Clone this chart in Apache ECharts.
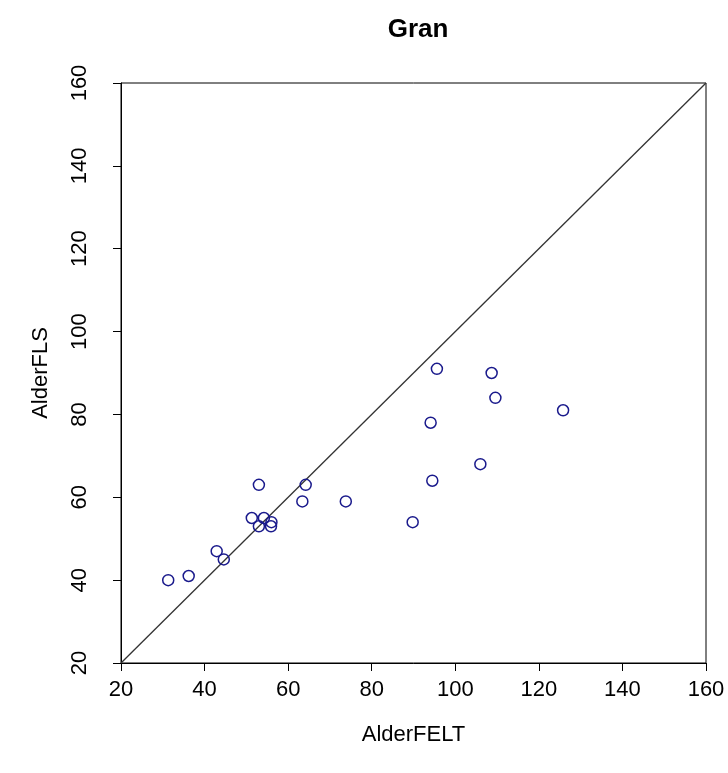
<!DOCTYPE html>
<html>
<head>
<meta charset="utf-8">
<script src="https://cdn.jsdelivr.net/npm/echarts@6/dist/echarts.min.js"></script>
<style>html,body{margin:0;padding:0;background:#fff}#c{width:728px;height:773px}</style>
</head>
<body>
<div id="c"></div>
<script>
var alderFELT = [31.3, 36.2, 42.9, 44.6, 51.3, 53.0, 54.2, 53.0, 56.0, 55.9, 63.4, 64.2, 73.8, 89.8, 94.1, 94.5, 95.6, 106.0, 108.7, 109.6, 125.8];
var alderFLS  = [40, 41, 47, 45, 55, 63, 55, 53, 54, 53, 59, 63, 59, 54, 78, 64, 91, 68, 90, 84, 81];
var identityLine = [[20, 20], [160, 160]];

var points = alderFELT.map(function (x, i) { return [x, alderFLS[i]]; });
var font = 'Liberation Sans, Arial, sans-serif';
var chart = echarts.init(document.getElementById('c'));
chart.setOption({
  animation: false,
  title: {
    text: 'Gran', left: 413, top: 12, textAlign: 'center',
    textStyle: { fontFamily: font, fontWeight: 'bold', fontSize: 26, color: '#000' }
  },
  grid: { left: 121, right: 22, top: 83, bottom: 110, show: true, borderColor: '#000', borderWidth: 1 },
  xAxis: {
    type: 'value', min: 20, max: 160, interval: 20,
    name: 'AlderFELT', nameLocation: 'middle', nameGap: 61,
    nameTextStyle: { fontFamily: font, fontSize: 22, color: '#000' },
    axisLine: { show: true, onZero: false, lineStyle: { color: '#000', width: 1 } },
    axisTick: { show: true, length: 8, lineStyle: { color: '#000' } },
    axisLabel: { margin: 16, fontFamily: font, fontSize: 22, color: '#000' },
    splitLine: { show: false }
  },
  yAxis: {
    type: 'value', min: 20, max: 160, interval: 20,
    name: 'AlderFLS', nameLocation: 'middle', nameGap: 69,
    nameTextStyle: { fontFamily: font, fontSize: 22, color: '#000' },
    axisLine: { show: true, onZero: false, lineStyle: { color: '#000', width: 1 } },
    axisTick: { show: true, length: 8, lineStyle: { color: '#000' } },
    axisLabel: { margin: 30, rotate: 90, fontFamily: font, fontSize: 22, color: '#000' },
    splitLine: { show: false }
  },
  series: [
    {
      type: 'line', data: identityLine, symbol: 'none', silent: true, z: 1,
      lineStyle: { color: '#333', width: 1.3 }
    },
    {
      type: 'scatter', data: points, symbol: 'circle', symbolSize: 11, z: 3,
      itemStyle: { color: 'rgba(255,255,255,0)', borderColor: '#1a1a8c', borderWidth: 1.5, opacity: 1 }
    }
  ]
});
</script>
</body>
</html>
